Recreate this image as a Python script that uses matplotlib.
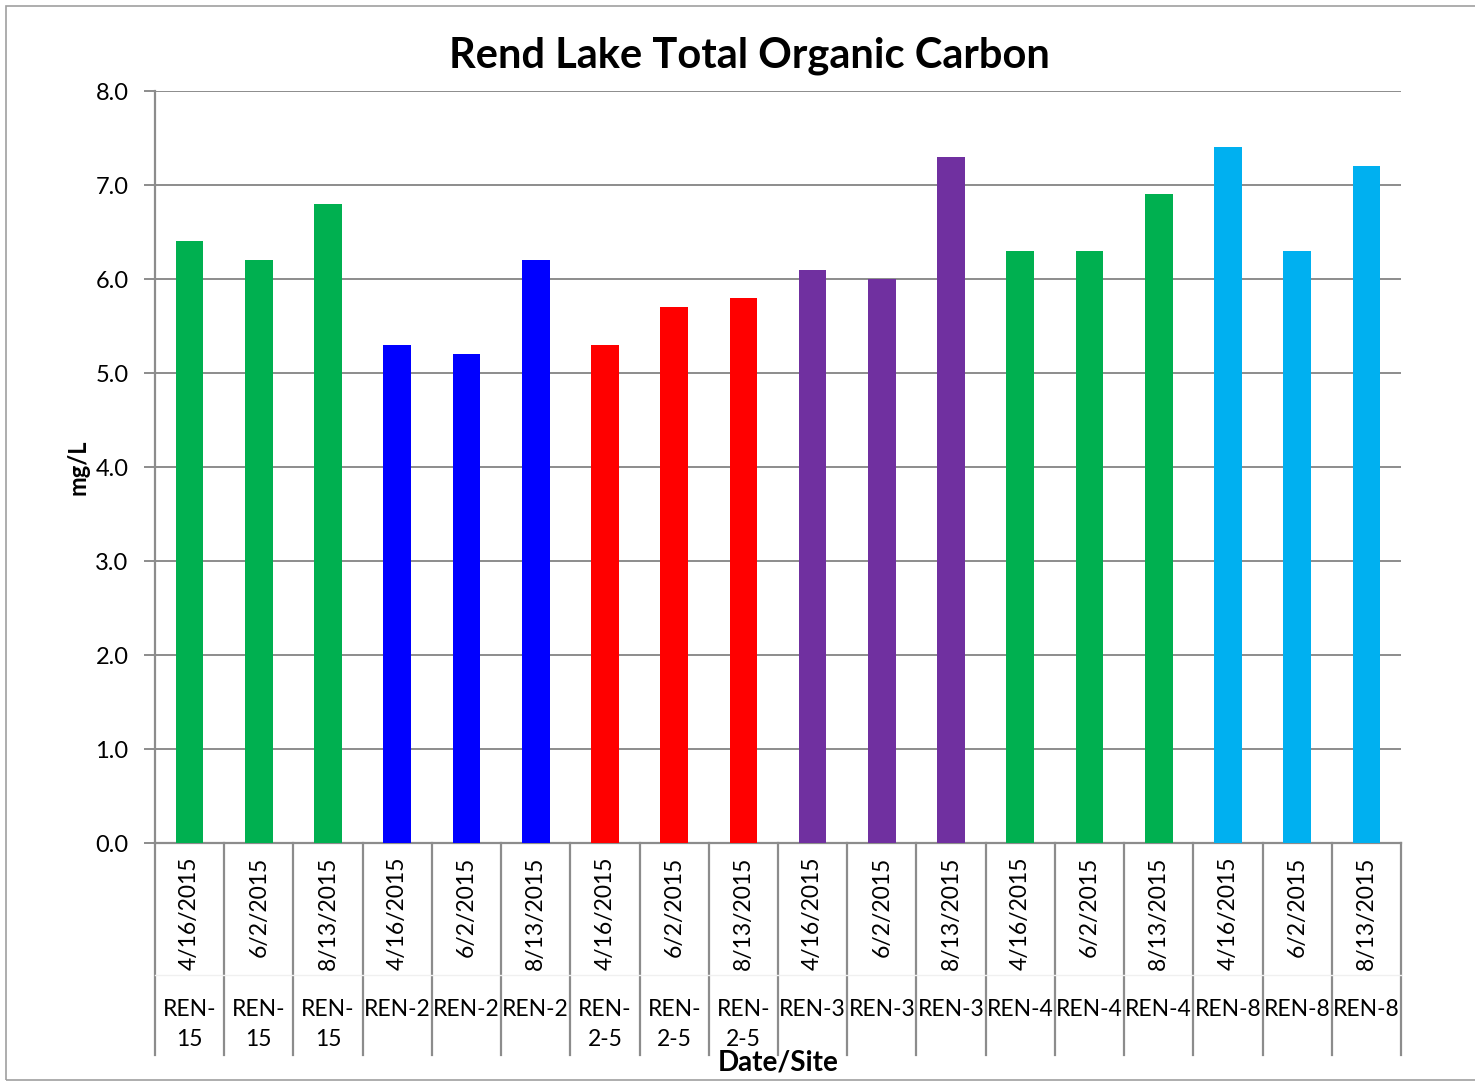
import matplotlib.pyplot as plt
from matplotlib.patches import Rectangle

# data
dates = ['4/16/2015', '6/2/2015', '8/13/2015'] * 6
sites = ['REN-\n15'] * 3 + ['REN-2'] * 3 + ['REN-\n2-5'] * 3 + ['REN-3'] * 3 + ['REN-4'] * 3 + ['REN-8'] * 3
toc = [6.4, 6.2, 6.8, 5.3, 5.2, 6.2, 5.3, 5.7, 5.8, 6.1, 6.0, 7.3, 6.3, 6.3, 6.9, 7.4, 6.3, 7.2]
site_colors = ['#00B050', '#0000FF', '#FF0000', '#7030A0', '#00B050', '#00B0F0']
yticks = [0, 1, 2, 3, 4, 5, 6, 7, 8]

plt.rcParams['font.family'] = ['Lato', 'DejaVu Sans']

W, H = 1475, 1082
fig = plt.figure(figsize=(W / 100, H / 100), dpi=100)
ax = fig.add_axes([155 / W, 1 - 843 / H, (1401 - 155) / W, (843 - 91) / H])

# outer chart border
fig.patches.append(Rectangle((6 / W, 2 / H), 1.2, 1 - 8 / H, transform=fig.transFigure,
                             fill=False, edgecolor='#A0A0A0', linewidth=1.2))

x = list(range(len(toc)))
colors = [site_colors[i // 3] for i in x]
ax.bar(x, toc, width=0.4, color=colors, zorder=3)

grid_c = '#8C8C8C'
ax.set_xlim(-0.5, len(toc) - 0.5)
ax.set_ylim(0, 8)
ax.set_yticks(yticks)
ax.set_yticklabels(['%.1f' % v for v in yticks], fontsize=17)
ax.yaxis.grid(True, color=grid_c, linewidth=1.4, zorder=0)
ax.tick_params(axis='y', length=8, width=1.4, color=grid_c, pad=11)
ax.set_xticks([])
for s in ['top', 'right']:
    ax.spines[s].set_visible(False)
for s in ['left', 'bottom']:
    ax.spines[s].set_color(grid_c)
    ax.spines[s].set_linewidth(1.6)

# multi-level category axis
axh = 843 - 91
tr = ax.get_xaxis_transform()
for i in range(len(toc) + 1):
    ax.plot([i - 0.5, i - 0.5], [0, -(1055 - 843) / axh], transform=tr,
            color=grid_c, linewidth=1.6, clip_on=False)
ax.plot([-0.5, len(toc) - 0.5], [-(975 - 843) / axh] * 2, transform=tr,
        color='#F0F0F0', linewidth=1, clip_on=False)
for i in x:
    ax.text(i, -(857 - 843) / axh, dates[i], transform=tr, rotation=90,
            ha='center', va='top', fontsize=16.5)
    ax.text(i, -(999 - 843) / axh, sites[i], transform=tr, ha='center',
            va='top', fontsize=16.5, linespacing=1.55)

ax.set_ylabel('mg/L', fontsize=17, fontweight='bold', labelpad=4)
fig.text(778 / W, 1 - 1063 / H, 'Date/Site', ha='center', va='center',
         fontsize=20, fontweight='bold')
fig.text(749 / W, 1 - 56 / H, 'Rend Lake Total Organic Carbon', ha='center',
         va='center', fontsize=30, fontweight='bold')

fig.savefig('out.png', dpi=100)
